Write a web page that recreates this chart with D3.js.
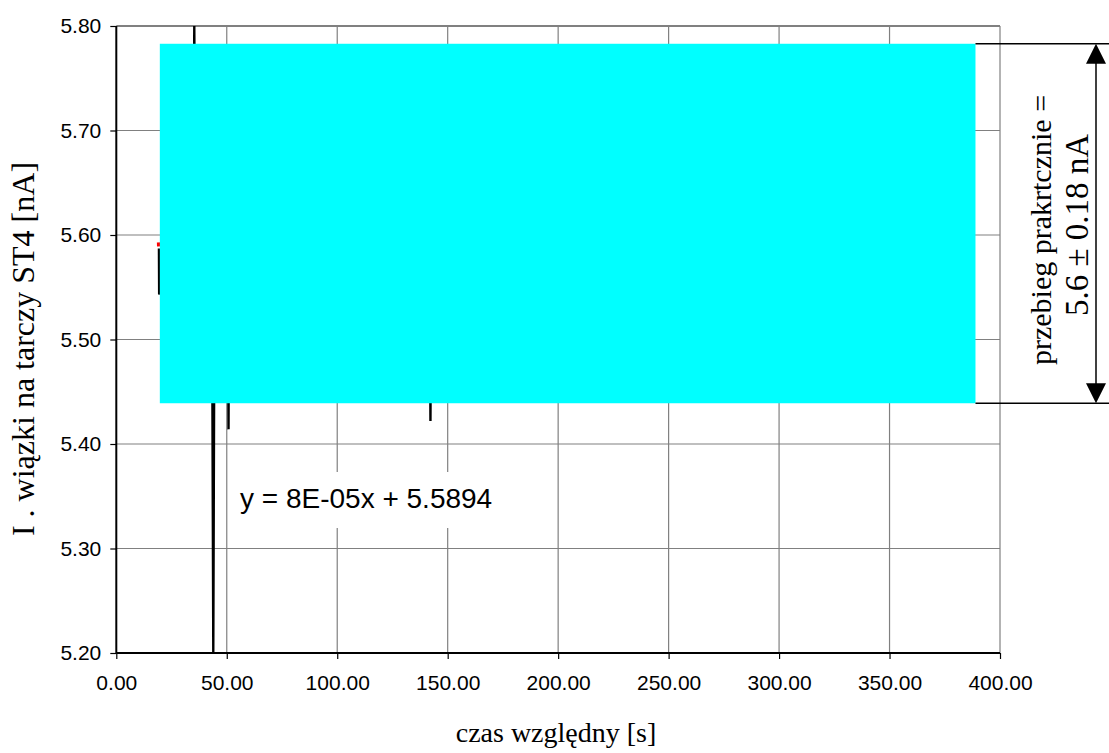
<!DOCTYPE html>
<html><head><meta charset="utf-8">
<script src="https://cdn.jsdelivr.net/npm/d3@7"></script>
<style>body{margin:0;background:#fff}</style>
</head><body>
<svg id="c" width="1109" height="753"></svg>
<script>
// ---- data ----
const xTickValues = [0, 50, 100, 150, 200, 250, 300, 350, 400];
const yTickValues = [5.20, 5.30, 5.40, 5.50, 5.60, 5.70, 5.80];
const timeS     = [19.3, 19.4, 24, 29, 34.7, 35.3, 35.9, 39, 43.3, 43.9, 44.5, 47, 50.5, 50.8, 51.1, 60, 75, 90, 110, 130, 141.8, 142.2, 142.6, 160, 190, 220, 250, 280, 310, 340, 370, 388];
const currentNA = [5.587, 5.543, 5.60, 5.57, 5.60, 5.80, 5.58, 5.61, 5.57, 5.20, 5.59, 5.62, 5.56, 5.414, 5.60, 5.58, 5.61, 5.57, 5.60, 5.58, 5.60, 5.422, 5.59, 5.61, 5.57, 5.60, 5.58, 5.62, 5.59, 5.61, 5.58, 5.60];
const trendSlope = 8e-5, trendIntercept = 5.5894;
const trendRange = [18.4, 388];
const coverX = [19.7, 388.9], coverY = [5.439, 5.783];
const equationLabel = "y = 8E-05x + 5.5894";
const xTitle = "czas względny [s]";
const yTitle = "I . wiązki na tarczy ST4 [nA]";
const noteLines = ["przebieg prakrtcznie =", "5.6 ± 0.18 nA"];

// ---- layout ----
const L = 116.3, R = 1000, T = 26, B = 653;
const svg = d3.select("#c");
const x = d3.scaleLinear().domain([0, 400]).range([L, R]);
const y = d3.scaleLinear().domain([5.20, 5.80]).range([B, T]);

svg.append("defs").append("clipPath").attr("id", "pa")
  .append("rect").attr("x", L).attr("y", T).attr("width", R - L).attr("height", B - T);

// gridlines
svg.append("g").selectAll("line").data(xTickValues.slice(1)).join("line")
  .attr("x1", d => x(d)).attr("x2", d => x(d)).attr("y1", T).attr("y2", B)
  .attr("stroke", "#808080").attr("stroke-width", 1.2);
svg.append("g").selectAll("line").data(yTickValues.slice(1)).join("line")
  .attr("x1", L).attr("x2", R).attr("y1", d => y(d)).attr("y2", d => y(d))
  .attr("stroke", "#808080").attr("stroke-width", d => d === 5.80 ? 2 : 1.2);

// axes
const yAxis = d3.axisLeft(y).tickValues(yTickValues).tickFormat(d3.format(".2f")).tickSize(6).tickPadding(9);
const xAxis = d3.axisBottom(x).tickValues(xTickValues).tickFormat(d3.format(".2f")).tickSize(6).tickPadding(16);
const gy = svg.append("g").attr("transform", `translate(${L},0)`).call(yAxis);
const gx = svg.append("g").attr("transform", `translate(0,${B})`).call(xAxis);
[gx, gy].forEach(g => {
  g.select(".domain").attr("stroke", "#000").attr("stroke-width", 2);
  g.selectAll(".tick line").attr("stroke", "#000").attr("stroke-width", 1.2);
  g.selectAll(".tick text").attr("fill", "#000").style("font-family", "Arial, 'Liberation Sans', sans-serif").style("font-size", "21px");
});
gx.select(".domain").attr("d", `M${L},0H${R}`);
gy.select(".domain").attr("d", `M0,${B}V${T}`);

// data line
const pts = timeS.map((t, i) => [t, currentNA[i]]);
svg.append("path").datum(pts).attr("clip-path", "url(#pa)")
  .attr("fill", "none").attr("stroke", "#000").attr("stroke-width", 2.4)
  .attr("d", d3.line().x(d => x(d[0])).y(d => y(d[1])));

// trend line
svg.append("path").datum(trendRange.map(t => [t, trendSlope * t + trendIntercept]))
  .attr("fill", "none").attr("stroke", "#ff0000").attr("stroke-width", 4)
  .attr("d", d3.line().x(d => x(d[0])).y(d => y(d[1])));

// cyan cover
svg.append("rect").attr("x", x(coverX[0])).attr("y", y(coverY[1]))
  .attr("width", x(coverX[1]) - x(coverX[0])).attr("height", y(coverY[0]) - y(coverY[1]))
  .attr("fill", "#00ffff");

// equation label with white box
svg.append("rect").attr("x", 233).attr("y", 472).attr("width", 290).attr("height", 56).attr("fill", "#fff");
svg.append("text").attr("x", 240).attr("y", 508).text(equationLabel)
  .style("font-family", "Arial, 'Liberation Sans', sans-serif").style("font-size", "28px").attr("fill", "#000");

// axis titles
const serif = "'Times New Roman', 'Liberation Serif', serif";
svg.append("text").attr("x", 556).attr("y", 742).attr("text-anchor", "middle")
  .text(xTitle).style("font-family", serif).style("font-size", "28px");
svg.append("text").attr("transform", "translate(34,349) rotate(-90)").attr("text-anchor", "middle")
  .text(yTitle).style("font-family", serif).style("font-size", "32px");

// bracket annotation
const yTop = y(coverY[1]), yBot = y(coverY[0]);
const ax = 1096;
svg.append("g").selectAll("line").data([yTop, yBot]).join("line")
  .attr("x1", x(coverX[1])).attr("x2", 1109).attr("y1", d => d).attr("y2", d => d)
  .attr("stroke", "#000").attr("stroke-width", 1.5);
svg.append("line").attr("x1", ax).attr("x2", ax).attr("y1", yTop + 18).attr("y2", yBot - 18)
  .attr("stroke", "#000").attr("stroke-width", 1.5);
svg.append("path").attr("d", `M${ax},${yTop}L${ax - 10},${yTop + 20}L${ax + 10},${yTop + 20}Z`).attr("fill", "#000");
svg.append("path").attr("d", `M${ax},${yBot}L${ax - 10},${yBot - 20}L${ax + 10},${yBot - 20}Z`).attr("fill", "#000");
svg.append("text").attr("transform", `translate(1051,230) rotate(-90)`).attr("text-anchor", "middle")
  .text(noteLines[0]).style("font-family", serif).style("font-size", "30px");
svg.append("text").attr("transform", `translate(1088,225) rotate(-90)`).attr("text-anchor", "middle")
  .text(noteLines[1]).style("font-family", serif).style("font-size", "33px");
</script>
</body></html>
